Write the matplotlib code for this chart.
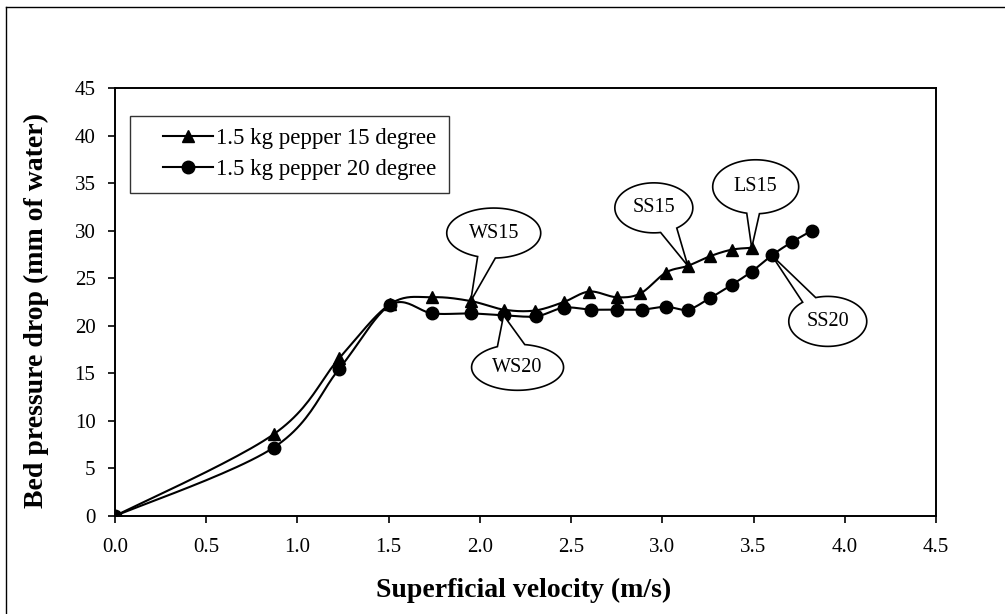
import numpy as np
import matplotlib
matplotlib.use("Agg")
import matplotlib.pyplot as plt
import matplotlib.transforms as mtransforms
from matplotlib.path import Path
from matplotlib.patches import PathPatch
from matplotlib.lines import Line2D
from matplotlib.legend_handler import HandlerLine2D

# ---- data -------------------------------------------------------------
velocity_15 = [0.00, 0.87, 1.23, 1.51, 1.74, 1.95, 2.13, 2.30, 2.46, 2.60,
               2.75, 2.88, 3.02, 3.14, 3.26, 3.38, 3.49]
pressure_15 = [0.0, 8.6, 16.6, 22.3, 23.0, 22.6, 21.7, 21.6, 22.5, 23.6,
               23.0, 23.4, 25.6, 26.3, 27.3, 28.0, 28.2]

velocity_20 = [0.00, 0.87, 1.23, 1.51, 1.74, 1.95, 2.13, 2.31, 2.46, 2.61,
               2.75, 2.89, 3.02, 3.14, 3.26, 3.38, 3.49, 3.60, 3.71, 3.82]
pressure_20 = [0.0, 7.2, 15.5, 22.2, 21.3, 21.3, 21.1, 21.0, 21.9, 21.7,
               21.7, 21.7, 22.0, 21.7, 22.9, 24.3, 25.7, 27.4, 28.8, 30.0]

series_labels = ["1.5 kg pepper 15 degree", "1.5 kg pepper 20 degree"]
x_ticks = [0.0, 0.5, 1.0, 1.5, 2.0, 2.5, 3.0, 3.5, 4.0, 4.5]
y_ticks = [0, 5, 10, 15, 20, 25, 30, 35, 40, 45]

# callout text, series, point index
callout_text = ["WS15", "WS20", "SS15", "LS15", "SS20"]
callout_series = ["15", "20", "15", "15", "20"]
callout_index = [5, 6, 13, 16, 17]

# ---- styling ------------------------------------------------------------
plt.rcParams["font.family"] = ["Liberation Serif", "DejaVu Serif"]

fig = plt.figure(figsize=(10.05, 6.14), dpi=100)
ax = fig.add_axes([0.1144, 0.1596, 0.8169, 0.6971])
ax.set_xlim(0, 4.5)
ax.set_ylim(0, 45)
ax.set_xticks(x_ticks)
ax.set_xticklabels([f"{v:.1f}" for v in x_ticks])
ax.set_yticks(y_ticks)
ax.set_yticklabels([str(v) for v in y_ticks])
for s in ax.spines.values():
    s.set_linewidth(1.4)
ax.tick_params(axis="both", direction="out", length=5, width=1.2,
               labelsize=15)
ax.tick_params(axis="x", pad=11)
ax.tick_params(axis="y", pad=9)

ax.set_xlabel("Superficial velocity (m/s)", fontsize=20, fontweight="bold")
ax.set_ylabel("Bed pressure drop (mm of water)", fontsize=20,
              fontweight="bold")
ax.xaxis.set_label_coords(0.498, -0.145)
ax.yaxis.set_label_coords(-0.080, 0.48)


def smooth_curve(xs, ys, n=24):
    """Bezier smoothing through the points (Catmull-Rom style), in screen space."""
    pts = ax.transData.transform(np.column_stack([xs, ys]))
    p = np.vstack([pts[0], pts, pts[-1]])
    out = [pts[0]]
    t = np.linspace(0, 1, n + 1)[1:, None]
    for i in range(1, len(p) - 2):
        p0, p1, p2, p3 = p[i - 1], p[i], p[i + 1], p[i + 2]
        c1 = p1 + (p2 - p0) / 6.0
        c2 = p2 - (p3 - p1) / 6.0
        seg = ((1 - t) ** 3) * p1 + 3 * ((1 - t) ** 2) * t * c1 \
            + 3 * (1 - t) * t ** 2 * c2 + t ** 3 * p2
        out.extend(seg)
    out = np.array(out)
    return ax.transData.inverted().transform(out).T


for xs, ys in [(velocity_15, pressure_15), (velocity_20, pressure_20)]:
    sx, sy = smooth_curve(xs, ys)
    ax.plot(sx, sy, color="black", lw=1.5, zorder=3)

ax.plot(velocity_15, pressure_15, ls="none", marker="^", ms=8,
        color="black", zorder=4)
ax.plot(velocity_20, pressure_20, ls="none", marker="o", ms=9,
        color="black", zorder=4)

# legend handles combine line + marker
h15 = Line2D([], [], color="black", lw=1.5, marker="^", ms=8)
h20 = Line2D([], [], color="black", lw=1.5, marker="o", ms=9)
leg = ax.legend([h15, h20], series_labels, loc="upper left",
                bbox_to_anchor=(0.018, 0.935), borderaxespad=0,
                fontsize=16.5, frameon=True, fancybox=False, shadow=False,
                handlelength=3.1, handletextpad=0.12, labelspacing=0.42,
                borderpad=0.55, numpoints=1,
                handler_map={Line2D: HandlerLine2D(xpad=0.9)})
leg.get_frame().set_edgecolor("black")
leg.get_frame().set_linewidth(1.0)
leg.set_zorder(5)

# ---- speech-bubble callouts -------------------------------------------
# bubble centre offset (px), semi-axes (px), wedge attach angles (deg)
bubble_offset = [(23, 68), (14, -52), (-34, 58), (4, 61), (56, -66)]
bubble_axes = [(47, 25), (46, 23), (39, 25), (43, 27), (39, 25)]
bubble_wedge = [(250, 272), (81, 116), (280, 306), (258, 275), (108, 130)]

series_data = {"15": (velocity_15, pressure_15),
               "20": (velocity_20, pressure_20)}

for text, ser, idx, off, semi, wedge in zip(callout_text, callout_series,
                                            callout_index, bubble_offset,
                                            bubble_axes, bubble_wedge):
    xs, ys = series_data[ser]
    x0, y0 = xs[idx], ys[idx]
    trans = mtransforms.Affine2D() + mtransforms.ScaledTranslation(
        x0, y0, ax.transData)
    a_lo, a_hi = wedge
    ang = np.deg2rad(np.linspace(a_hi, a_lo + 360, 90))
    cx, cy = off
    a, b = semi
    verts = np.column_stack([cx + a * np.cos(ang), cy + b * np.sin(ang)])
    verts = np.vstack([verts, [0, 0], verts[0]])
    codes = [Path.MOVETO] + [Path.LINETO] * (len(verts) - 2) + [Path.CLOSEPOLY]
    patch = PathPatch(Path(verts, codes), facecolor="white",
                      edgecolor="black", lw=1.2, transform=trans,
                      zorder=6, clip_on=False)
    ax.add_patch(patch)
    ax.text(cx, cy, text, transform=trans, ha="center", va="center",
            fontsize=14.5, zorder=7)

# outer frame of the figure panel
fig.add_artist(Line2D([6 / 1005, 6 / 1005], [0, 1 - 7 / 614],
                      transform=fig.transFigure, color="black", lw=1.0))
fig.add_artist(Line2D([6 / 1005, 1], [1 - 7 / 614, 1 - 7 / 614],
                      transform=fig.transFigure, color="black", lw=1.0))

fig.savefig("out.png", dpi=100)
